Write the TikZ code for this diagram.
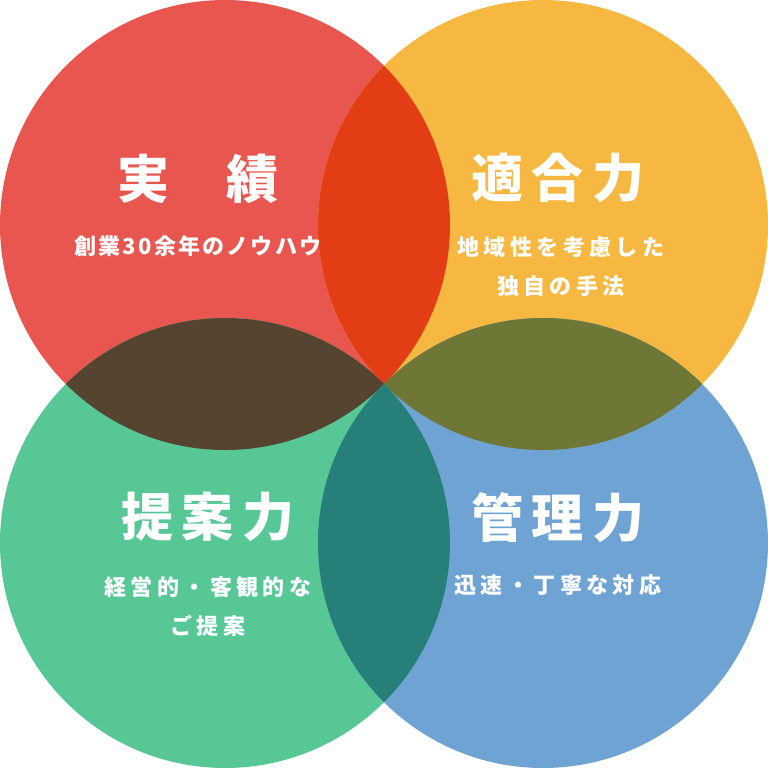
\documentclass[tikz,border=0pt]{standalone}
\usepackage{fontspec}
\newfontfamily\titlefont{Noto Sans CJK JP}[LetterSpace=16]
\newfontfamily\subfont{Noto Sans CJK JP}[LetterSpace=20]
\newfontfamily\subtightfont{Noto Sans CJK JP}[LetterSpace=10]
\usetikzlibrary{calc, positioning}

\definecolor{jissekired}{HTML}{E9554F}
\definecolor{tekigoorange}{HTML}{F6B840}
\definecolor{teiangreen}{HTML}{57C795}
\definecolor{kanriblue}{HTML}{6FA3D4}
\definecolor{redorange}{HTML}{E23D14}
\definecolor{redgreen}{HTML}{544430}
\definecolor{orangeblue}{HTML}{6F7736}
\definecolor{greenblue}{HTML}{277F7A}

\begin{document}
\begin{tikzpicture}[x=0.5pt, y=-0.5pt,
  jtitle/.style={text=white, inner sep=0pt, font=\titlefont\bfseries\fontsize{26}{30}\selectfont},
  jsub/.style={text=white, inner sep=0pt, align=center, font=\subfont\bfseries\fontsize{11}{19.5}\selectfont}]
\def\circleradius{225}
\useasboundingbox (0,0) rectangle (768,768);

% Circle centres
\coordinate (RC) at (225,225);
\coordinate (OC) at (543,225);
\coordinate (GC) at (225,543);
\coordinate (BC) at (543,543);

% The four circles
\fill[jissekired] (RC) circle[radius=\circleradius];
\fill[tekigoorange] (OC) circle[radius=\circleradius];
\fill[teiangreen] (GC) circle[radius=\circleradius];
\fill[kanriblue] (BC) circle[radius=\circleradius];

% Overlaps with the top left circle
\begin{scope}
\clip (RC) circle[radius=\circleradius];
\fill[redorange] (OC) circle[radius=\circleradius];
\fill[redgreen] (GC) circle[radius=\circleradius];
\end{scope}

% Overlaps with the bottom right circle
\begin{scope}
\clip (BC) circle[radius=\circleradius];
\fill[orangeblue] (OC) circle[radius=\circleradius];
\fill[greenblue] (GC) circle[radius=\circleradius];
\end{scope}

% Titles and their lines
\node[jtitle] (jisseki) at (198,179) {実　\hspace{-2pt}績};
\node[jsub, font=\subtightfont\bfseries\fontsize{11}{19.5}\selectfont] (jissekisub) at (198,246) {創業30余年のノウハウ};
\node[jtitle] (tekigo) at (558,178) {適合力};
\node[jsub] (tekigosub) at (561,267) {地域性を考慮した\\独自の手法};
\node[jtitle] (teian) at (208,517) {提案力};
\node[jsub] (teiansub) at (208,607) {経営的・客観的な\\ご提案};
\node[jtitle] (kanri) at (558,518) {管理力};
\node[jsub] (kanrisub) at (558,585) {迅速・丁寧な対応};
\end{tikzpicture}
\end{document}
